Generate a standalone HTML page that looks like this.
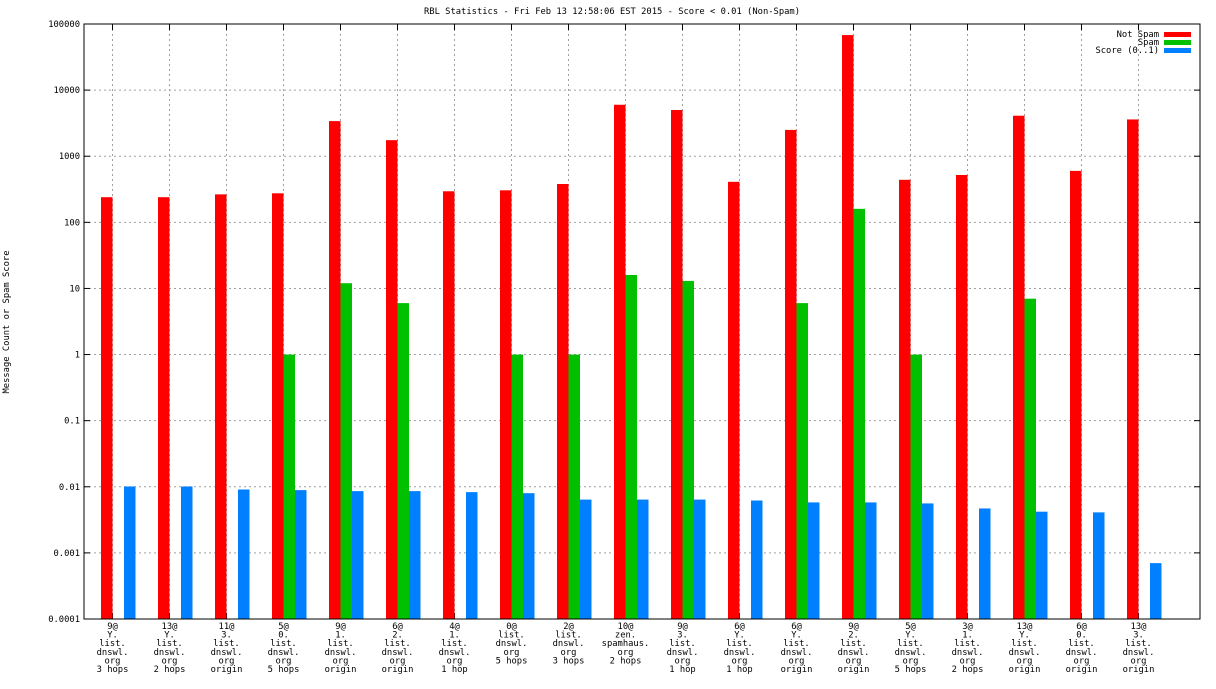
<!DOCTYPE html>
<html><head><meta charset="utf-8"><style>
body{margin:0;background:#fff}
svg text{font-family:"DejaVu Sans Mono","Liberation Mono",monospace;font-size:8.8px;fill:#000}
</style></head><body>
<svg id="c" width="1216" height="684"></svg>
<script>
const categories=[["9@","Y.","list.","dnswl.","org","3 hops"],["13@","Y.","list.","dnswl.","org","2 hops"],["11@","3.","list.","dnswl.","org","origin"],["5@","0.","list.","dnswl.","org","5 hops"],["9@","1.","list.","dnswl.","org","origin"],["6@","2.","list.","dnswl.","org","origin"],["4@","1.","list.","dnswl.","org","1 hop"],["0@","list.","dnswl.","org","5 hops"],["2@","list.","dnswl.","org","3 hops"],["10@","zen.","spamhaus.","org","2 hops"],["9@","3.","list.","dnswl.","org","1 hop"],["6@","Y.","list.","dnswl.","org","1 hop"],["6@","Y.","list.","dnswl.","org","origin"],["9@","2.","list.","dnswl.","org","origin"],["5@","Y.","list.","dnswl.","org","5 hops"],["3@","1.","list.","dnswl.","org","2 hops"],["13@","Y.","list.","dnswl.","org","origin"],["6@","0.","list.","dnswl.","org","origin"],["13@","3.","list.","dnswl.","org","origin"]];
const notSpam=[240,240,265,275,3400,1750,295,305,380,6000,5000,410,2500,68000,440,520,4100,600,3600];
const spam=[0,0,0,1,12,6,0,1,1,16,13,0,6,160,1,0,7,0,0];
const score=[0.0101,0.0101,0.0091,0.0089,0.0086,0.0086,0.0083,0.008,0.0064,0.0064,0.0064,0.0062,0.0058,0.0058,0.0056,0.0047,0.0042,0.0041,0.0007];
const yTicks=[0.0001,0.001,0.01,0.1,1,10,100,1000,10000,100000];
const yTickLabels=["0.0001","0.001","0.01","0.1","1","10","100","1000","10000","100000"];
const svg=document.getElementById('c');const NS='http://www.w3.org/2000/svg';
const L=84,R=1200,T=24,B=619;
function y(v){return B-(Math.log10(v)+4)/9*(B-T);}
function x(i){return L+(i+0.5)*57;}
function mk(t,a,p){const e=document.createElementNS(NS,t);for(const k in a)e.setAttribute(k,a[k]);(p||svg).appendChild(e);return e;}
let t=mk('text',{x:612,y:14,'text-anchor':'middle'});t.textContent='RBL Statistics - Fri Feb 13 12:58:06 EST 2015 - Score < 0.01 (Non-Spam)';

yTicks.forEach((v,k)=>{const yy=y(v);
 if(k>0&&k<yTicks.length-1){const g=mk('line',{x1:L,x2:R,y1:yy,y2:yy,stroke:'#a0a0a0','stroke-dasharray':'2,3'});}
 mk('line',{x1:L,x2:L+6,y1:yy,y2:yy,stroke:'#000'});mk('line',{x1:R,x2:R-6,y1:yy,y2:yy,stroke:'#000'});
 const tl=mk('text',{x:L-4,y:yy+3,'text-anchor':'end'});tl.textContent=yTickLabels[k];
 });
categories.forEach((c,i)=>{const xx=x(i);
 const g=mk('line',{x1:xx,x2:xx,y1:T,y2:B,stroke:'#a0a0a0','stroke-dasharray':'2,3'});
 mk('line',{x1:xx,x2:xx,y1:B,y2:B-6,stroke:'#000'});mk('line',{x1:xx,x2:xx,y1:T,y2:T+6,stroke:'#000'});
 const tx=mk('text',{'text-anchor':'middle'});
 c.forEach((s,j)=>{const ts=mk('tspan',{x:xx,y:629+j*8.6},tx);ts.textContent=s;});
 const bars=[[notSpam[i],-11.5,'#ff0000','bar-not-spam'],[spam[i],0,'#00c000','bar-spam'],[score[i],11.5,'#0080ff','bar-score']];
 bars.forEach(b=>{if(b[0]>0){const yy=Math.max(y(b[0]),T);const r=mk('rect',{x:xx+b[1],y:yy,width:11.5,height:B-yy,fill:b[2]});}});});
const f=mk('rect',{x:L,y:T,width:R-L,height:B-T,fill:'none',stroke:'#000'});
const yt=mk('text',{x:9,y:322,'text-anchor':'middle',transform:'rotate(-90 9 322)'});yt.textContent='Message Count or Spam Score';

[['Not Spam','#ff0000'],['Spam','#00c000'],['Score (0..1)','#0080ff']].forEach((l,k)=>{const yy=37+k*8;
 const lt=mk('text',{x:1159,y:yy,'text-anchor':'end'});lt.textContent=l[0];
 const s=mk('rect',{x:1164,y:yy-5,width:27,height:5,fill:l[1]});});
</script></body></html>
